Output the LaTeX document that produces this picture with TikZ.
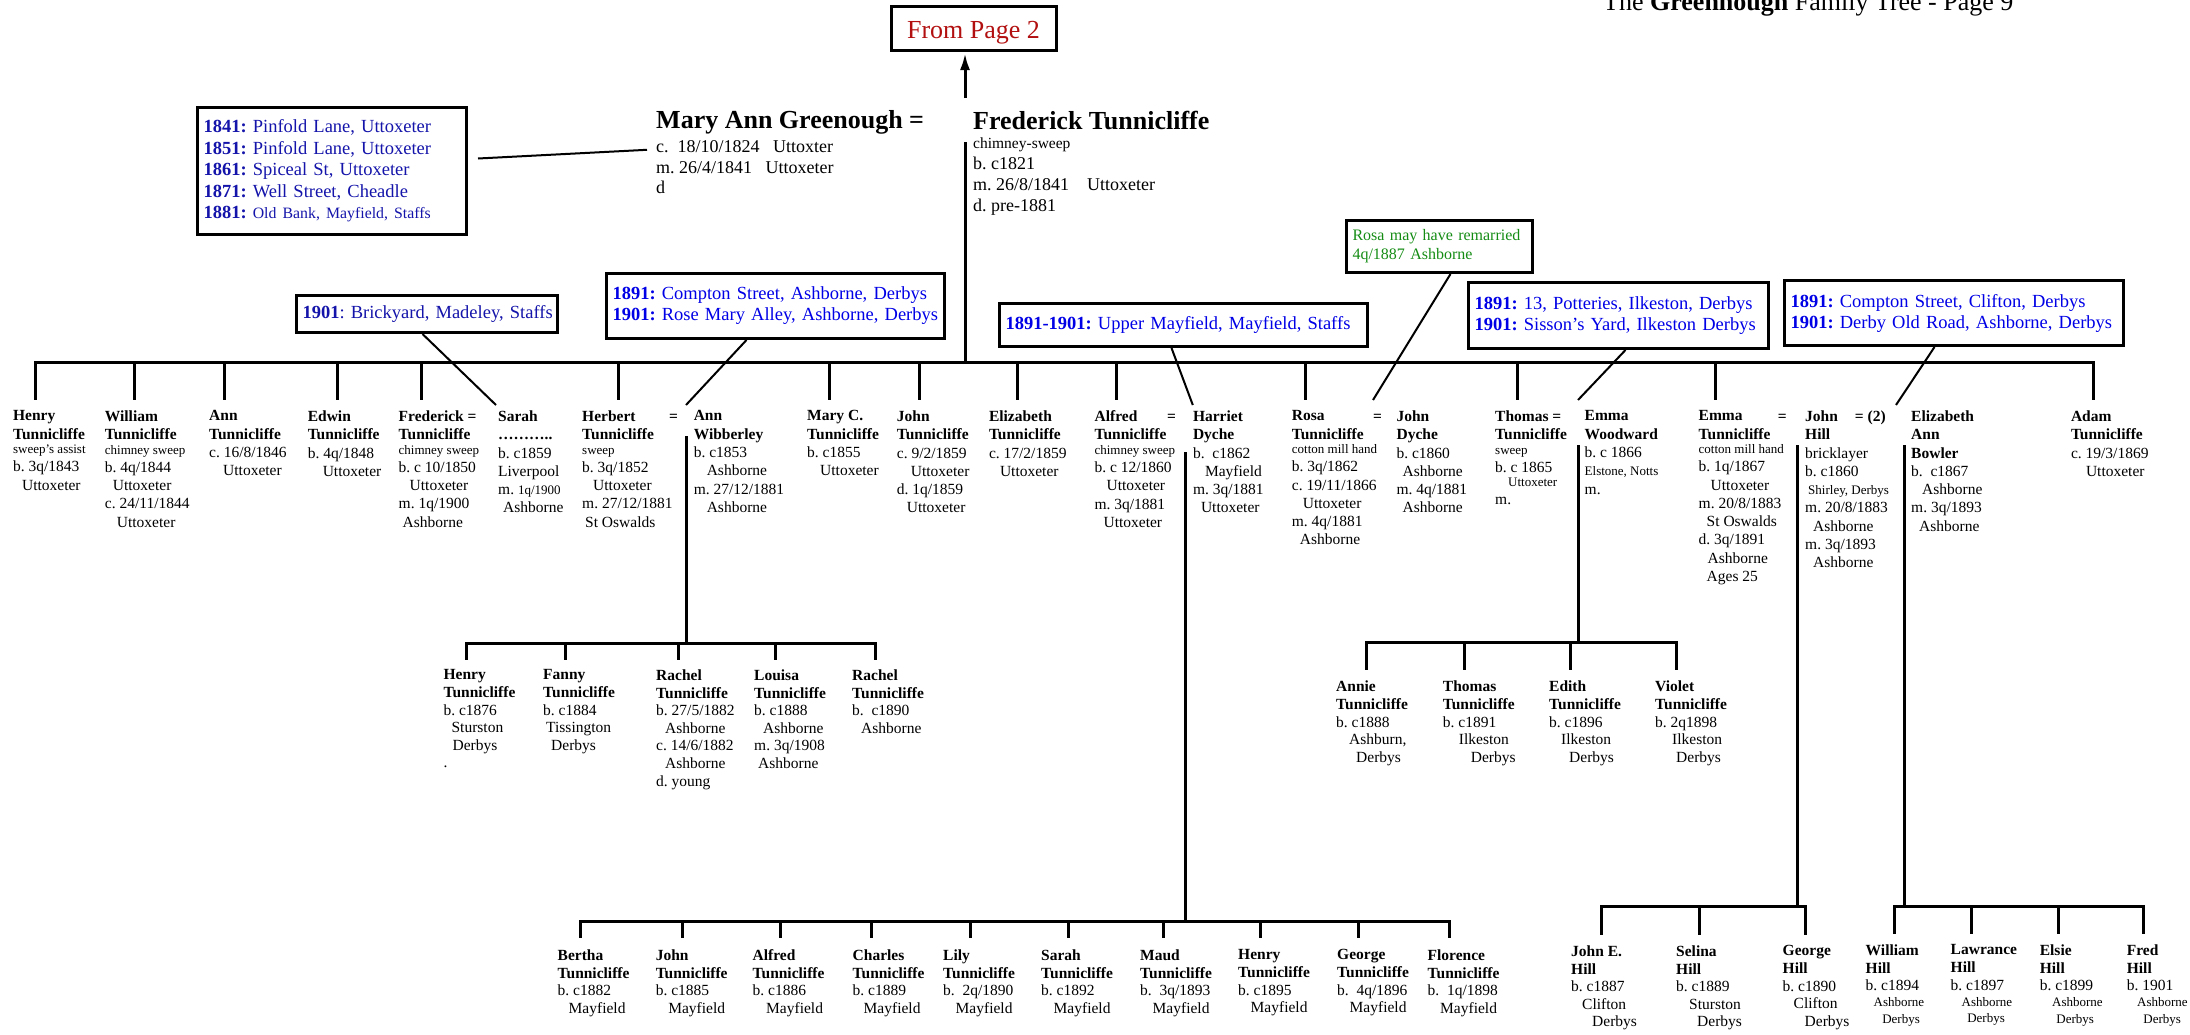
\documentclass[tikz,border=0pt]{standalone}
\usepackage{fontspec}
\setmainfont{Liberation Serif}
\usepackage{tikz}
\usepackage{xcolor}
\usetikzlibrary{arrows.meta,positioning}
\definecolor{pagered}{RGB}{178,16,16}
\definecolor{addrnavy}{RGB}{20,20,170}
\definecolor{addrblue}{RGB}{0,0,230}
\definecolor{notegreen}{RGB}{20,140,20}
\tikzset{%
  tipA/.tip={Latex[length=17pt,width=10pt]},
  tree/.style={line width=3pt, line cap=rect},
  link/.style={line width=2pt},
  person/.style={anchor=north west, inner sep=0pt, align=left, font=\fontsize{15.5}{18.3}\selectfont},
  kid/.style={person, font=\fontsize{15.5}{17.6}\selectfont},
  eqsign/.style={anchor=base west, inner sep=0pt, font=\bfseries\fontsize{15.5}{17.5}\selectfont},
  addr/.style={draw, line width=3pt, anchor=north west, inner xsep=6pt, inner ysep=0pt, align=left, text=addrblue, font=\fontsize{18.5}{21}\selectfont}
}
\newcommand{\nm}[1]{\textbf{#1}}
\newcommand{\sml}[1]{{\fontsize{13}{15}\selectfont #1}}
\newcommand{\indt}[1]{\hspace*{#1pt}}
\frenchspacing

\begin{document}
\begin{tikzpicture}[x=1pt,y=-1pt]
\useasboundingbox (0,0) rectangle (2190,1034);

\node[anchor=base west, inner sep=0pt, font=\fontsize{26}{30}\selectfont] (title) at (1603,10) {The \textbf{Greenhough} Family Tree - Page 9};
\node[draw, line width=3pt, minimum width=165pt, minimum height=44pt, text height=20pt, text depth=0pt, inner sep=0pt, text=pagered, font=\fontsize{26}{30}\selectfont] (page) at (973.5,28.9) {From Page 2};

% parents
\node[anchor=north west, inner sep=0pt, font=\bfseries\fontsize{26}{30}\selectfont] (mary) at (656,110.5) {Mary Ann Greenough =};
\node[anchor=north west, inner sep=0pt, align=left, font=\fontsize{18}{20.5}\selectfont] (maryinfo) at (656,140.8) {c.\ \ 18/10/1824\ \ \ Uttoxter\\m. 26/4/1841\ \ \ Uttoxeter\\d};
\node[anchor=north west, inner sep=0pt, font=\bfseries\fontsize{26}{30}\selectfont] (fred) at (973,110.5) {Frederick Tunnicliffe};
\node[anchor=north west, inner sep=0pt, align=left, font=\fontsize{18}{21}\selectfont] (fredinfo) at (973,138) {{\fontsize{15.5}{17}\selectfont chimney-sweep}\\b. c1821\\m. 26/8/1841\ \ \ \ Uttoxeter\\d. pre-1881};

% census boxes
\node[addr, text=addrnavy, text width=257pt, minimum height=127pt, font=\fontsize{18.5}{21.5}\selectfont] (b1841) at (196,106) {\mbox{\textbf{1841:} Pinfold Lane, Uttoxeter}\\\mbox{\textbf{1851:} Pinfold Lane, Uttoxeter}\\\mbox{\textbf{1861:} Spiceal St, Uttoxeter}\\\mbox{\textbf{1871:} Well Street, Cheadle}\\\mbox{\textbf{1881:} {\fontsize{15.8}{18}\selectfont Old Bank, Mayfield, Staffs}}};
\node[addr, text=addrnavy, text width=249pt, minimum height=37pt] (brick) at (295,294) {\mbox{\textbf{1901}: Brickyard, Madeley, Staffs}};
\node[addr, text width=326pt, minimum height=65pt] (comp) at (605,272) {\mbox{\textbf{1891:} Compton Street, Ashborne, Derbys}\\\mbox{\textbf{1901:} Rose Mary Alley, Ashborne, Derbys}};
\node[addr, text width=356pt, minimum height=43pt] (may) at (998,302) {\mbox{\textbf{1891-1901:} Upper Mayfield, Mayfield, Staffs}};
\node[addr, text=notegreen, text width=174pt, minimum height=52pt, font=\fontsize{16}{19}\selectfont] (rosanote) at (1345,219) {\mbox{Rosa may have remarried}\\\mbox{4q/1887 Ashborne}};
\node[addr, text width=288pt, minimum height=66pt] (pot) at (1467,281) {\mbox{\textbf{1891:} 13, Potteries, Ilkeston, Derbys}\\\mbox{\textbf{1901:} Sisson’s Yard, Ilkeston Derbys}};
\node[addr, text width=327pt, minimum height=65pt] (clif) at (1783,279) {\mbox{\textbf{1891:} Compton Street, Clifton, Derbys}\\\mbox{\textbf{1901:} Derby Old Road, Ashborne, Derbys}};

% children
\node[person] (henry) at (12.9,410.5) {\nm{Henry}\\\nm{Tunnicliffe}\\[-4pt]\sml{sweep’s assist}\\b. 3q/1843\\\indt{9}Uttoxeter};
\node[person] (william) at (104.7,410.5) {\nm{William}\\\nm{Tunnicliffe}\\[-4pt]\sml{chimney sweep}\\b. 4q/1844\\\indt{8}Uttoxeter\\c. 24/11/1844\\\indt{12}Uttoxeter};
\node[person] (ann) at (209,410.5) {\nm{Ann}\\\nm{Tunnicliffe}\\c. 16/8/1846\\\indt{14}Uttoxeter};
\node[person] (edwin) at (307.6,410.5) {\nm{Edwin}\\\nm{Tunnicliffe}\\b. 4q/1848\\\indt{15}Uttoxeter};
\node[person] (frederick) at (398.5,410.5) {\nm{Frederick =}\\\nm{Tunnicliffe}\\[-4pt]\sml{chimney sweep}\\b. c 10/1850\\\indt{11}Uttoxeter\\m. 1q/1900\\\indt{4}Ashborne};
\node[person] (sarah) at (498,410.5) {\nm{Sarah}\\\nm{………..}\\b. c1859\\Liverpool\\m. \sml{1q/1900}\\\indt{5}Ashborne};
\node[person] (herbert) at (582,410.5) {\nm{Herbert}\\\nm{Tunnicliffe}\\[-4pt]\sml{sweep}\\b. 3q/1852\\\indt{11}Uttoxeter\\m. 27/12/1881\\\indt{3}St Oswalds};
\node[eqsign] (eqherbert) at (669,421) {=};
\node[person] (annw) at (693.6,410.5) {\nm{Ann}\\\nm{Wibberley}\\b. c1853\\\indt{13}Ashborne\\m. 27/12/1881\\\indt{13}Ashborne};
\node[person] (maryc) at (807,410.5) {\nm{Mary C.}\\\nm{Tunnicliffe}\\b. c1855\\\indt{13}Uttoxeter};
\node[person] (john) at (896.7,410.5) {\nm{John}\\\nm{Tunnicliffe}\\c. 9/2/1859\\\indt{14}Uttoxeter\\d. 1q/1859\\\indt{10}Uttoxeter};
\node[person] (elizabeth) at (988.8,410.5) {\nm{Elizabeth}\\\nm{Tunnicliffe}\\c. 17/2/1859\\\indt{11}Uttoxeter};
\node[person] (alfred) at (1094.4,410.5) {\nm{Alfred}\\\nm{Tunnicliffe}\\[-4pt]\sml{chimney sweep}\\b. c 12/1860\\\indt{12}Uttoxeter\\m. 3q/1881\\\indt{9}Uttoxeter};
\node[eqsign] (eqalfred) at (1167,421) {=};
\node[person] (harriet) at (1192.8,410.5) {\nm{Harriet}\\\nm{Dyche}\\b.\ \ c1862\\\indt{12}Mayfield\\m. 3q/1881\\\indt{8}Uttoxeter};
\node[person] (rosa) at (1291.7,410.5) {\nm{Rosa}\\\nm{Tunnicliffe}\\[-4pt]\sml{cotton mill hand}\\b. 3q/1862\\c. 19/11/1866\\\indt{11}Uttoxeter\\m. 4q/1881\\\indt{8}Ashborne};
\node[eqsign] (eqrosa) at (1373,421) {=};
\node[person] (jdyche) at (1396.4,410.5) {\nm{John}\\\nm{Dyche}\\b. c1860\\\indt{6}Ashborne\\m. 4q/1881\\\indt{6}Ashborne};
\node[person] (thomas) at (1495,410.5) {\nm{Thomas =}\\\nm{Tunnicliffe}\\[-4pt]\sml{sweep}\\b. c 1865\\[-4pt]\indt{13}\sml{Uttoxeter}\\m.};
\node[person] (emmaw) at (1584.5,410.5) {\nm{Emma}\\\nm{Woodward}\\b. c 1866\\\sml{Elstone, Notts}\\m.};
\node[person] (emmat) at (1698.5,410.5) {\nm{Emma}\\\nm{Tunnicliffe}\\[-4pt]\sml{cotton mill hand}\\b. 1q/1867\\\indt{12}Uttoxeter\\m. 20/8/1883\\\indt{8}St Oswalds\\d. 3q/1891\\\indt{9}Ashborne\\\indt{8}Ages 25};
\node[eqsign] (eqemma) at (1777.6,421) {=};
\node[person] (jhill) at (1805,410.5) {\nm{John}\\\nm{Hill}\\bricklayer\\b. c1860\\\indt{3}\sml{Shirley, Derbys}\\m. 20/8/1883\\\indt{8}Ashborne\\m. 3q/1893\\\indt{8}Ashborne};
\node[eqsign] (eqhill) at (1854.7,421) {= (2)};
\node[person] (elizb) at (1911,410.5) {\nm{Elizabeth}\\\nm{Ann}\\\nm{Bowler}\\b.\ \ c1867\\\indt{11}Ashborne\\m. 3q/1893\\\indt{8}Ashborne};
\node[person] (adam) at (2070.8,410.5) {\nm{Adam}\\\nm{Tunnicliffe}\\c. 19/3/1869\\\indt{15}Uttoxeter};

% Herbert and Ann
\node[kid] (hhenry) at (443.4,669.5) {\nm{Henry}\\\nm{Tunnicliffe}\\b. c1876\\\indt{8}Sturston\\\indt{9}Derbys\\.};
\node[kid] (hfanny) at (543,669.5) {\nm{Fanny}\\\nm{Tunnicliffe}\\b. c1884\\\indt{3}Tissington\\\indt{8}Derbys};
\node[kid] (hrachel) at (656,669.5) {\nm{Rachel}\\\nm{Tunnicliffe}\\b. 27/5/1882\\\indt{9}Ashborne\\c. 14/6/1882\\\indt{9}Ashborne\\d. young};
\node[kid] (hlouisa) at (754,669.5) {\nm{Louisa}\\\nm{Tunnicliffe}\\b. c1888\\\indt{9}Ashborne\\m. 3q/1908\\\indt{4}Ashborne};
\node[kid] (hrachelb) at (852,669.5) {\nm{Rachel}\\\nm{Tunnicliffe}\\b.\ \ c1890\\\indt{9}Ashborne};

% Thomas and Emma
\node[kid] (tannie) at (1336,681) {\nm{Annie}\\\nm{Tunnicliffe}\\b. c1888\\\indt{13}Ashburn,\\\indt{20}Derbys};
\node[kid] (tthomas) at (1442.7,681) {\nm{Thomas}\\\nm{Tunnicliffe}\\b. c1891\\\indt{16}Ilkeston\\\indt{28}Derbys};
\node[kid] (tedith) at (1549,681) {\nm{Edith}\\\nm{Tunnicliffe}\\b. c1896\\\indt{12}Ilkeston\\\indt{20}Derbys};
\node[kid] (tviolet) at (1655,681) {\nm{Violet}\\\nm{Tunnicliffe}\\b. 2q1898\\\indt{17}Ilkeston\\\indt{21}Derbys};

% Alfred and Harriet
\node[kid] (abertha) at (557.5,949.5) {\nm{Bertha}\\\nm{Tunnicliffe}\\b. c1882\\\indt{11}Mayfield};
\node[kid] (ajohn) at (655.6,949.5) {\nm{John}\\\nm{Tunnicliffe}\\b. c1885\\\indt{12.5}Mayfield};
\node[kid] (aalfred) at (752.5,949.5) {\nm{Alfred}\\\nm{Tunnicliffe}\\b. c1886\\\indt{13.5}Mayfield};
\node[kid] (acharles) at (852.5,949.5) {\nm{Charles}\\\nm{Tunnicliffe}\\b. c1889\\\indt{11}Mayfield};
\node[kid] (alily) at (943,949.5) {\nm{Lily}\\\nm{Tunnicliffe}\\b.\ \ 2q/1890\\\indt{12.5}Mayfield};
\node[kid] (asarah) at (1041,949.5) {\nm{Sarah}\\\nm{Tunnicliffe}\\b. c1892\\\indt{12.5}Mayfield};
\node[kid] (amaud) at (1140,949.5) {\nm{Maud}\\\nm{Tunnicliffe}\\b.\ \ 3q/1893\\\indt{12.5}Mayfield};
\node[kid] (ahenry) at (1238,949.5) {\nm{Henry}\\\nm{Tunnicliffe}\\b. c1895\\\indt{12.5}Mayfield};
\node[kid] (ageorge) at (1337,949.5) {\nm{George}\\\nm{Tunnicliffe}\\b.\ \ 4q/1896\\\indt{12.5}Mayfield};
\node[kid] (aflorence) at (1427.5,949.5) {\nm{Florence}\\\nm{Tunnicliffe}\\b.\ \ 1q/1898\\\indt{12.5}Mayfield};

% John Hill and Emma
\node[kid] (ejohn) at (1571,945.5) {\nm{John E.}\\\nm{Hill}\\b. c1887\\\indt{11}Clifton\\\indt{21}Derbys};
\node[kid] (eselina) at (1676,945.5) {\nm{Selina}\\\nm{Hill}\\b. c1889\\\indt{13}Sturston\\\indt{21}Derbys};
\node[kid] (egeorge) at (1782.5,945.5) {\nm{George}\\\nm{Hill}\\b. c1890\\\indt{11}Clifton\\\indt{22}Derbys};

% John Hill and Elizabeth
\node[kid] (bwilliam) at (1865.5,944.5) {\nm{William}\\\nm{Hill}\\b. c1894\\[-1.3pt]\indt{8}\sml{Ashborne}\\[-1.3pt]\indt{16.6}\sml{Derbys}};
\node[kid] (blawrance) at (1950.5,944.5) {\nm{Lawrance}\\\nm{Hill}\\b. c1897\\[-1.3pt]\indt{11}\sml{Ashborne}\\[-1.3pt]\indt{16.6}\sml{Derbys}};
\node[kid] (belsie) at (2039.6,944.5) {\nm{Elsie}\\\nm{Hill}\\b. c1899\\[-1.3pt]\indt{12.4}\sml{Ashborne}\\[-1.3pt]\indt{16.6}\sml{Derbys}};
\node[kid] (bfred) at (2126.6,944.5) {\nm{Fred}\\\nm{Hill}\\b. 1901\\[-1.3pt]\indt{10.4}\sml{Ashborne}\\[-1.3pt]\indt{16.6}\sml{Derbys}};

% lines
\draw[tree, line cap=butt, -tipA] ([xshift=-8pt,yshift=12.5pt]fred.north west) -- ++(0,-45);
\draw[tree] ([xshift=-8pt,yshift=-5pt]fredinfo.north west) -- ++(0,219);
\draw[tree] ([xshift=23pt,yshift=48.5pt]henry.north west) -- ([xshift=23pt,yshift=48.5pt]adam.north west);
\foreach \k/\d in {henry/23,william/30,ann/15,edwin/30,frederick/23,herbert/36.5,maryc/22,john/23,elizabeth/29,alfred/21.6,rosa/14,thomas/22,emmat/16.5,adam/23}
  \draw[tree] ([xshift=\d pt,yshift=12.5pt]\k.north west) -- ++(0,-36);

\draw[tree] ([xshift=-7pt,yshift=-26.5pt]annw.north west) -- ++(0,206);
\draw[tree] ([xshift=23pt,yshift=26.5pt]hhenry.north west) -- ([xshift=23pt,yshift=26.5pt]hrachelb.north west);
\foreach \k/\d in {hhenry/23,hfanny/22,hrachel/22,hlouisa/21.7,hrachelb/23}
  \draw[tree] ([xshift=\d pt,yshift=11.5pt]\k.north west) -- ++(0,-15);

\draw[tree] ([xshift=-6.5pt,yshift=-36pt]emmaw.north west) -- ++(0,196);
\draw[tree] ([xshift=30pt,yshift=38.3pt]tannie.north west) -- ([xshift=21.7pt,yshift=38.3pt]tviolet.north west);
\foreach \k/\d in {tannie/30,tthomas/21.3,tedith/21,tviolet/21.7}
  \draw[tree] ([xshift=\d pt,yshift=13pt]\k.north west) -- ++(0,-25.3);

\draw[tree] ([xshift=-7pt,yshift=-42.5pt]harriet.north west) -- ++(0,468.7);
\draw[tree] ([xshift=23.1pt,yshift=27.8pt]abertha.north west) -- ([xshift=21.5pt,yshift=27.8pt]aflorence.north west);
\foreach \k/\d in {abertha/23.1,ajohn/26.9,aalfred/28.1,acharles/18.5,alily/27,asarah/27,amaud/23,ahenry/22.6,ageorge/21.8,aflorence/21.5}
  \draw[tree] ([xshift=\d pt,yshift=12.8pt]\k.north west) -- ++(0,-15);

\draw[tree] ([xshift=-7.5pt,yshift=-35.5pt]jhill.north west) -- ++(0,460.7);
\draw[tree] ([xshift=30pt,yshift=38.8pt]ejohn.north west) -- ([xshift=22.5pt,yshift=38.8pt]egeorge.north west);
\foreach \k/\d in {ejohn/30,eselina/23.6,egeorge/22.5}
  \draw[tree] ([xshift=\d pt,yshift=12.5pt]\k.north west) -- ++(0,-26.3);

\draw[tree] ([xshift=-7pt,yshift=-36pt]elizb.north west) -- ++(0,460.2);
\draw[tree] ([xshift=29pt,yshift=37.8pt]bwilliam.north west) -- ([xshift=16.4pt,yshift=37.8pt]bfred.north west);
\foreach \k/\d in {bwilliam/29,blawrance/20.5,belsie/18.4,bfred/16.4}
  \draw[tree] ([xshift=\d pt,yshift=12.5pt]\k.north west) -- ++(0,-25.3);

\draw[link] ([xshift=10pt,yshift=12.5pt]b1841.east) -- ([xshift=-9pt,yshift=-9pt]maryinfo.north west);
\draw[link] ([xshift=-4.5pt]brick.south) -- ([xshift=-2pt,yshift=5.5pt]sarah.north west);
\draw[link] ([xshift=-29pt]comp.south) -- ([xshift=-7.6pt,yshift=5.5pt]annw.north west);
\draw[link] ([xshift=-12pt]may.south) -- ([yshift=5.5pt]harriet.north west);
\draw[link] ([xshift=11pt]rosanote.south) -- ([xshift=-23.4pt,yshift=10.5pt]jdyche.north west);
\draw[link] ([xshift=7pt]pot.south) -- ([xshift=-6.5pt,yshift=10.5pt]emmaw.north west);
\draw[link] ([xshift=-19.5pt]clif.south) -- ([xshift=-15pt,yshift=5.5pt]elizb.north west);
\end{tikzpicture}
\end{document}
